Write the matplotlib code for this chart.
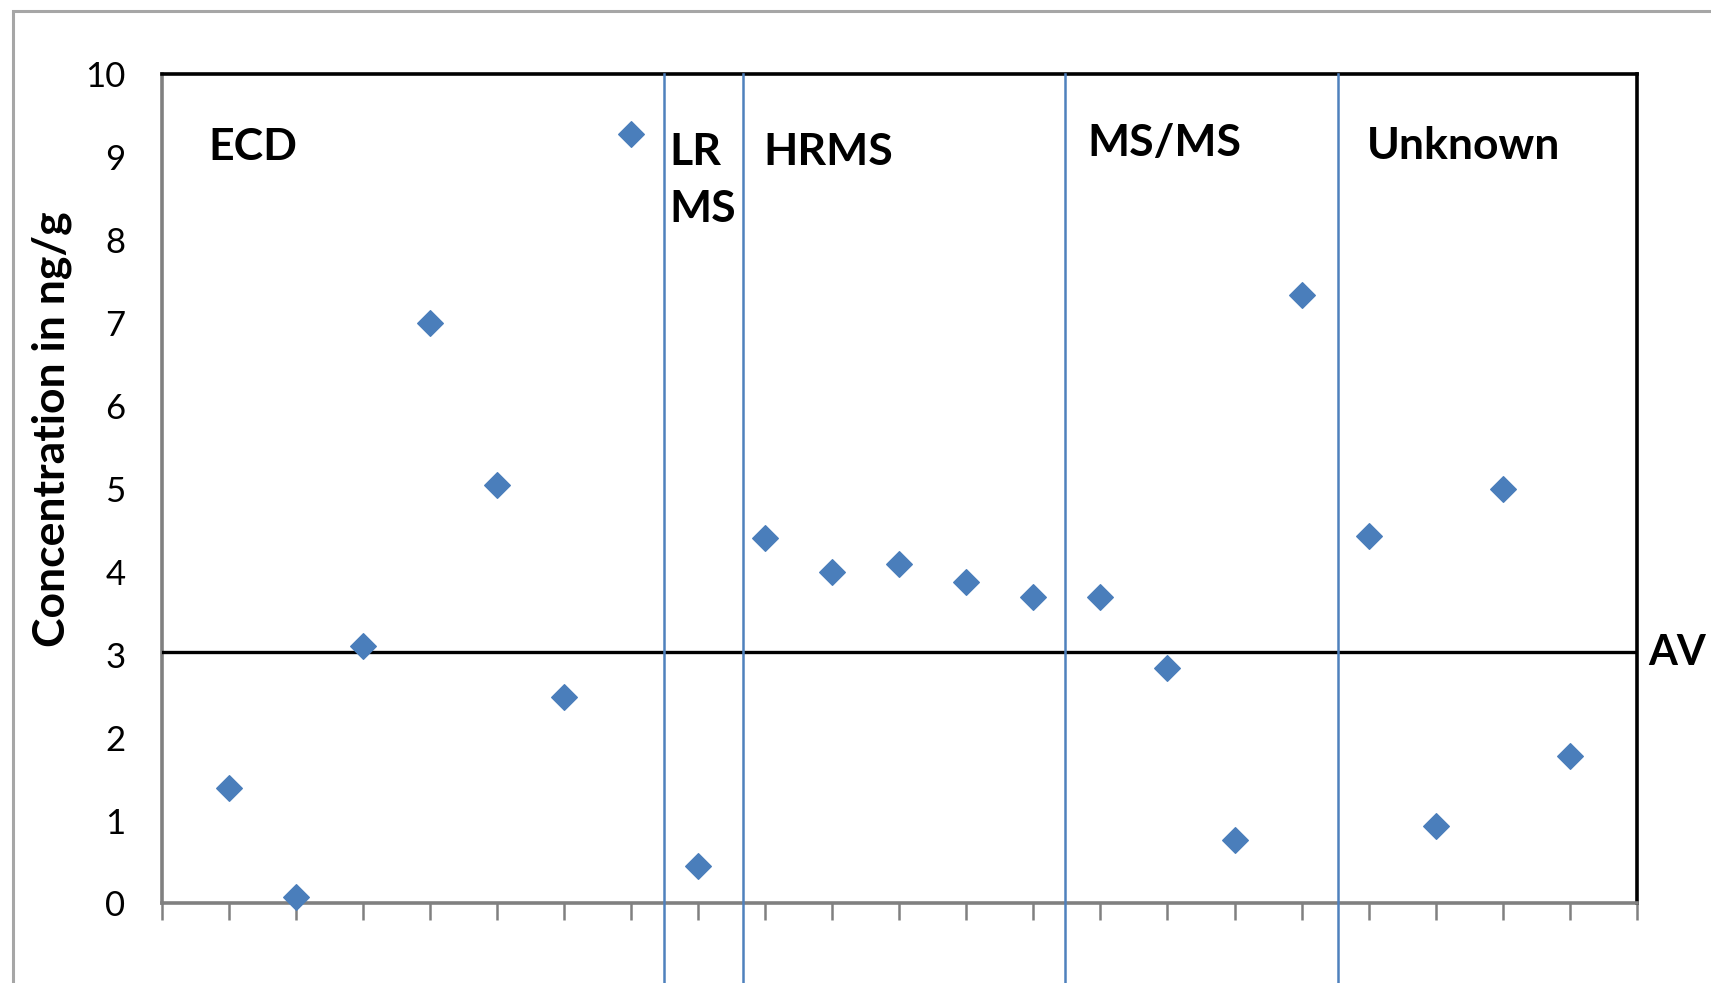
import numpy as np
import matplotlib
matplotlib.use("Agg")
import matplotlib.pyplot as plt
from matplotlib.patches import Rectangle

## Data
Sample_Position = list(range(1, 22))
Concentration = [1.39, 0.08, 3.11, 7.00, 5.05, 2.49, 9.28,
                 0.45,
                 4.41, 4.00, 4.09, 3.87, 3.70,
                 3.70, 2.84, 0.76, 7.33,
                 4.43, 0.93, 5.00, 1.78]
Reference_Level = 3.03
Method_Labels = ["ECD", "LR", "MS", "HRMS", "MS/MS", "Unknown"]
Label_X = [0.70, 7.57, 7.57, 8.97, 13.80, 17.97]
Label_Y = [8.96, 8.90, 8.21, 8.90, 9.01, 8.97]
Separator_X = [7.49, 8.67, 13.47, 17.54]

plt.rcParams['font.family'] = ['Lato', 'DejaVu Sans']

fig = plt.figure(figsize=(17.11, 9.83), dpi=100)
ax = fig.add_axes([0.0944, 0.0809, 0.9567 - 0.0944, 0.9247 - 0.0809])

## gray chart-area border (cropped on right and bottom)
fig.patches.append(Rectangle((13 / 1711, -0.05), 1.2, 1 - 11 / 983 + 0.05,
                             transform=fig.transFigure, fill=False,
                             edgecolor='#a6a6a6', linewidth=2.2, clip_on=False))

ax.scatter(Sample_Position, Concentration, marker='D', s=170,
           color='#4a7ebb', zorder=5, clip_on=False)

ax.axhline(Reference_Level, color='black', linewidth=2.4, zorder=3)

for xs in Separator_X:
    ax.plot([xs, xs], [-2, 10], color='#4f81bd', linewidth=1.8,
            clip_on=False, zorder=4)

for lab, lx, ly in zip(Method_Labels, Label_X, Label_Y):
    ax.text(lx, ly, lab, fontsize=32, fontweight='bold', ha='left',
            va='baseline')

fig.text(1648 / 1711, 1 - 653 / 983, "AV", fontsize=30, fontweight='bold',
         ha='left', va='center')

ax.set_xlim(0, 22)
ax.set_ylim(0, 10)
ax.set_xticks(range(0, 23))
ax.set_xticklabels([])
ax.set_yticks(range(0, 11))
ax.tick_params(axis='x', direction='out', length=12, width=1.8, color='#808080')
ax.tick_params(axis='y', length=0, labelsize=25, pad=26)

for s in ['left', 'bottom']:
    ax.spines[s].set_color('#808080')
    ax.spines[s].set_linewidth(2.6)
for s in ['top', 'right']:
    ax.spines[s].set_color('black')
    ax.spines[s].set_linewidth(2.6)

ax.set_ylabel('Concentration in ng/g', fontsize=32, fontweight='bold', va='center')
ax.yaxis.set_label_coords(-0.0747, 0.572)

fig.savefig('out.png', dpi=100)
